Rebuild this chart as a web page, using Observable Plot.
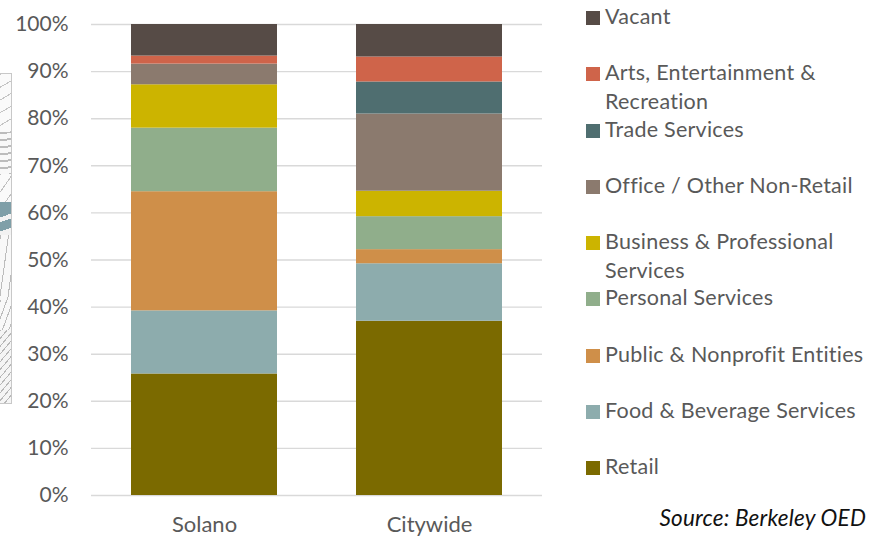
<!DOCTYPE html>
<html>
<head>
<meta charset="utf-8">
<script src="https://cdn.jsdelivr.net/npm/d3@7"></script>
<script src="https://cdn.jsdelivr.net/npm/@observablehq/plot@0.6"></script>
<style>
html,body{margin:0;padding:0;background:#fff;}
#wrap{position:relative;width:869px;height:536px;overflow:hidden;font-family:Lato,sans-serif;}
#map{position:absolute;left:-1px;top:73px;width:11px;height:329px;border:1px solid #c8c8c8;background:#f8f8f8;overflow:hidden;}
#map b{position:absolute;left:0;width:11px;display:block;}
#legend div.item{position:absolute;left:586px;color:#595959;font-size:21.5px;line-height:29px;letter-spacing:.25px;}
#legend i{position:absolute;left:0;width:14px;height:14px;}
#legend span{position:absolute;left:19px;white-space:nowrap;}
#source{position:absolute;right:3px;top:504px;font-style:italic;color:#111;font-size:22.5px;letter-spacing:.2px;white-space:nowrap;}
svg{position:absolute;left:0;top:0;}
</style>
</head>
<body>
<div id="wrap">
<div id="map">
 <b style="top:0;height:58px;background:repeating-linear-gradient(150deg,#c4c4c4 0 1px,#fafafa 1px 11px);"></b>
 <b style="top:58px;height:42px;background:repeating-linear-gradient(176deg,#bcbcbc 0 2px,#f8f8f8 2px 7px);"></b>
 <b style="top:100px;height:28px;background:repeating-linear-gradient(125deg,#c0c0c0 0 1px,#fafafa 1px 10px);"></b>
 <b style="top:128px;height:33px;background:linear-gradient(160deg,#7f9fa8 0 42%,#f2f2f2 42% 55%,#7f9fa8 55% 80%,#f2f2f2 80%);"></b>
 <b style="top:161px;height:65px;background:repeating-linear-gradient(98deg,#bcbcbc 0 1px,#f8f8f8 1px 8px);"></b>
 <b style="top:226px;height:30px;background:repeating-linear-gradient(110deg,#bcbcbc 0 1px,#f8f8f8 1px 6px);"></b>
 <b style="top:256px;height:73px;background:repeating-linear-gradient(130deg,#b8b8b8 0 1px,#f5f5f5 1px 5px);"></b>
</div>
<div id="chart"></div>
<div id="legend"></div>
<div id="source">Source: Berkeley OED</div>
</div>
<script>
const groups = ["Solano", "Citywide"];
const categories = ["Retail","Food & Beverage Services","Public & Nonprofit Entities","Personal Services","Business & Professional Services","Office / Other Non-Retail","Trade Services","Arts, Entertainment & Recreation","Vacant"];
const colors = ["#7b6a00","#8dacad","#cf8f49","#90ae8b","#ccb400","#8b7a6e","#4f6e70","#cf644a","#564b46"];
const solano = [25.8,13.4,25.3,13.5,9.2,4.4,0,1.7,6.7];
const citywide = [37.0,12.2,3.0,7.0,5.4,16.4,6.8,5.3,6.9];
const legendLabels = [["Vacant"],["Arts, Entertainment &","Recreation"],["Trade Services"],["Office / Other Non-Retail"],["Business & Professional","Services"],["Personal Services"],["Public & Nonprofit Entities"],["Food & Beverage Services"],["Retail"]];
const legendSwatches = ["#564b46","#cf644a","#4f6e70","#8b7a6e","#ccb400","#90ae8b","#cf8f49","#8dacad","#7b6a00"];
const yTicks = [0,10,20,30,40,50,60,70,80,90,100];

const rows = categories.flatMap((c,i)=>[
  {group:groups[0],category:c,value:solano[i]},
  {group:groups[1],category:c,value:citywide[i]}
]);

const plot = Plot.plot({
  width:869,height:536,
  marginLeft:91,marginRight:327,marginTop:24,marginBottom:41,
  style:{fontFamily:"Lato,sans-serif",background:"transparent"},
  x:{domain:groups,paddingInner:.3525,paddingOuter:.176,align:.5,label:null},
  y:{domain:[0,100],label:null},
  color:{domain:categories,range:colors},
  marks:[
    Plot.ruleY(yTicks,{stroke:"#d9d9d9",strokeWidth:1.4}),
    Plot.barY(rows,{x:"group",y:"value",fill:"category",order:categories}),
    Plot.axisY(yTicks,{tickSize:0,tickPadding:23,tickFormat:d=>d+"%",fontSize:21,fill:"#595959",label:null}),
    Plot.axisX({tickSize:0,tickPadding:21,fontSize:22,fill:"#595959",label:null})
  ]
});
document.getElementById("chart").appendChild(plot);

const legend = document.getElementById("legend");
legendLabels.forEach((lines,i)=>{
  const top = 18 + i*56.25;
  const d = document.createElement("div");
  d.className="item";
  d.style.top = top+"px";
  const sw = document.createElement("i");
  sw.style.background = legendSwatches[i];
  sw.style.top = "-7px";
  d.appendChild(sw);
  lines.forEach((t,j)=>{
    const s = document.createElement("span");
    s.textContent = t;
    s.style.top = (-16 + j*29)+"px";
    d.appendChild(s);
  });
  legend.appendChild(d);
});
</script>
</body>
</html>
